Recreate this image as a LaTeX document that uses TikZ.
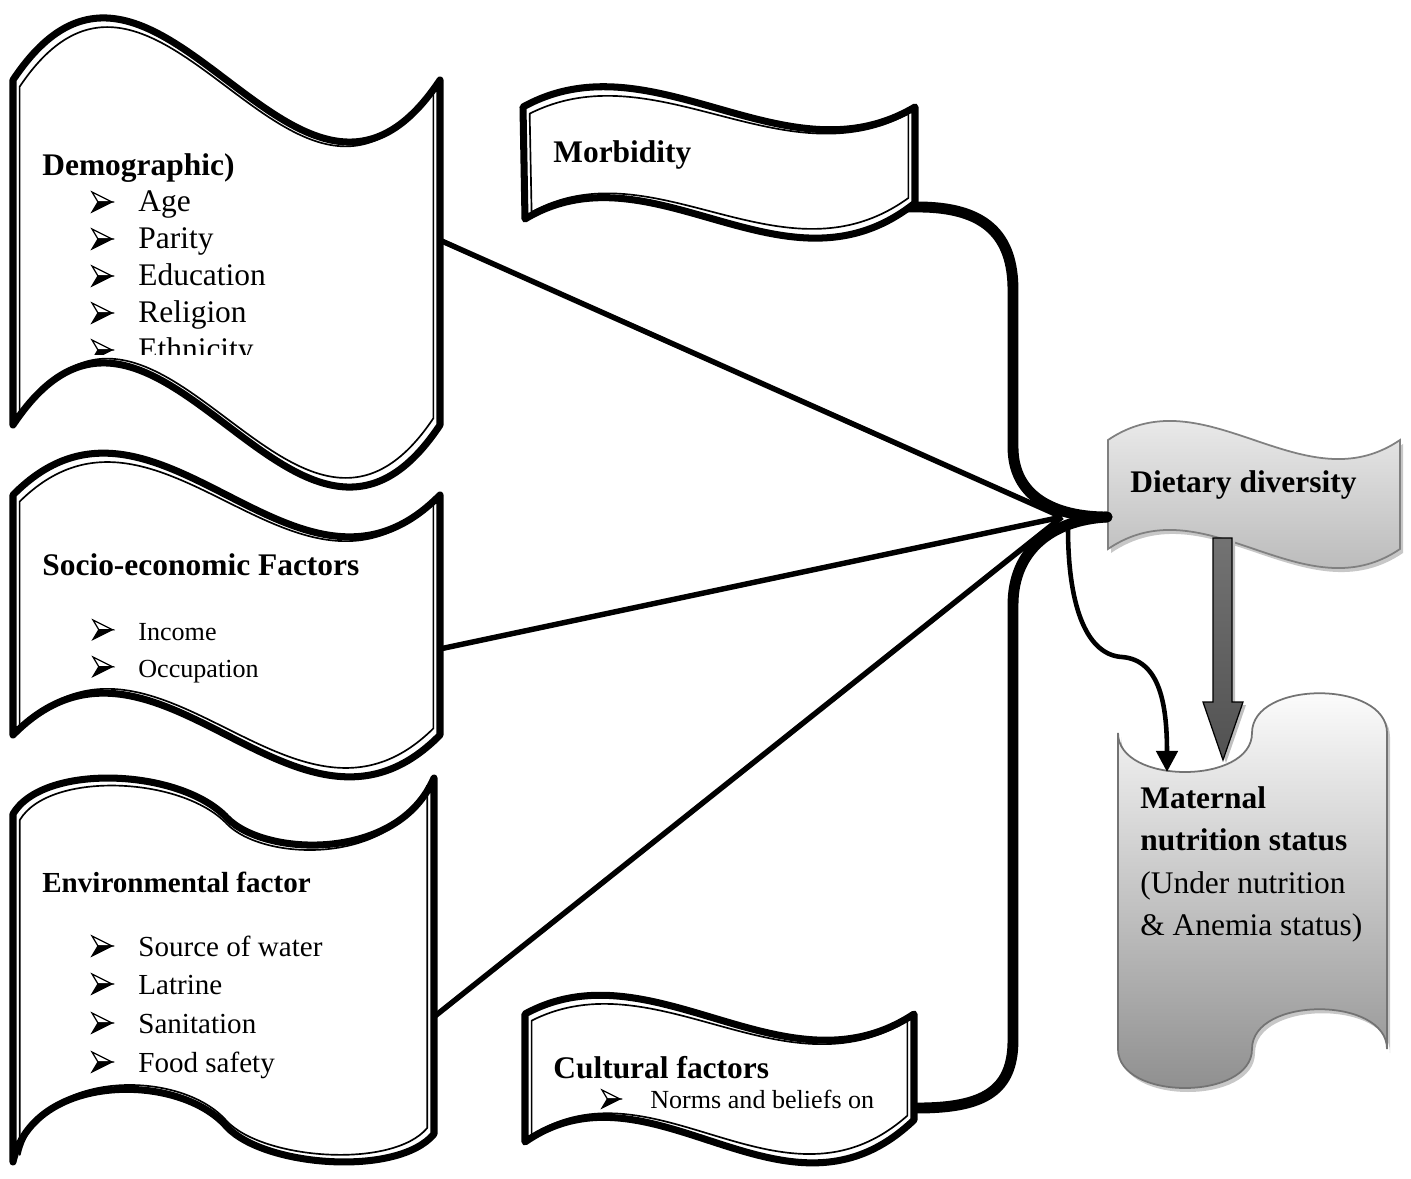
\documentclass[tikz,border=0pt]{standalone}
\usepackage{fontspec}
\setmainfont{Liberation Serif}
\usetikzlibrary{arrows.meta}

% #1,#2 centre, #3,#4 inner scale, #5 path
\newcommand\dblbanner[5]{%
  \filldraw[fill=white, line width=4pt, line join=round] #5;
  \begin{scope}[shift={(#1,#2)}, xscale=#3, yscale=#4, shift={(-#1,-#2)}]
    \draw[line width=0.95pt, line join=round] #5;
  \end{scope}}

\tikzset{
  ttl/.style={anchor=base west, inner sep=0pt, font=\fontsize{17.9pt}{20pt}\selectfont\bfseries},
  itL/.style={anchor=base west, inner sep=0pt, font=\fontsize{17.9pt}{20pt}\selectfont},
  itM/.style={anchor=base west, inner sep=0pt, font=\fontsize{16.55pt}{19pt}\selectfont},
  itS/.style={anchor=base west, inner sep=0pt, font=\fontsize{14.85pt}{17pt}\selectfont},
  ttlM/.style={anchor=base west, inner sep=0pt, font=\fontsize{16.55pt}{19pt}\selectfont\bfseries},
  conn/.style={line width=3.1pt},
  bracepart/.style={line width=6.2pt, line cap=round},
  bulpic/.pic={
    \filldraw[fill=white, line width=0.7pt, line join=miter] (0,0) -- (20,10) -- (6,10) -- cycle;
    \filldraw[line width=0.7pt, line join=miter] (6,10) -- (20,10) -- (0,20) -- cycle;
  }
}

\begin{document}
\begin{tikzpicture}[x=0.02cm, y=-0.02cm]
\useasboundingbox (0,0) rectangle (1411,1179);

% named connector end points
\coordinate (dem-e) at (435,238);
\coordinate (soc-e) at (435,650);
\coordinate (env-e) at (430,1020);
\coordinate (J) at (1062,517);
\coordinate (mor-e) at (905,207);
\coordinate (cul-e) at (905,1108);
\coordinate (tip) at (1107,517);
\coordinate (arr-s) at (1068,528);
\coordinate (mat-t) at (1167,772);

% straight connectors
\draw[conn] (dem-e) -- (J);
\draw[conn] (soc-e) -- (J);
\draw[conn] (env-e) -- (J);

% Dietary diversity banner
\fill[black!22] (1111,444) .. controls (1208,378) and (1306,510) .. (1403,444) -- (1403,553) .. controls (1306,619) and (1208,487) .. (1111,553) -- cycle;
\shade[top color=black!3, bottom color=black!32, draw=black!50, line width=1pt]
  (1108,440) .. controls (1205,374) and (1303,506) .. (1400,440) -- (1400,549) .. controls (1303,615) and (1205,483) .. (1108,549) -- cycle;
\node[ttl] (diet) at (1130,492) {Dietary diversity};

% Maternal nutrition status (punched tape)
\fill[black!22] (1121,737) .. controls (1121,789) and (1255,789) .. (1255,737) .. controls (1255,684) and (1390,684) .. (1390,737) -- (1390,1053) .. controls (1390,1000) and (1255,1000) .. (1255,1053) .. controls (1255,1105) and (1121,1105) .. (1121,1053) -- cycle;
\shade[top color=white, bottom color=black!45, draw=black!55, line width=1pt]
  (1118,733) .. controls (1118,785) and (1252,785) .. (1252,733) .. controls (1252,680) and (1387,680) .. (1387,733) -- (1387,1049) .. controls (1387,996) and (1252,996) .. (1252,1049) .. controls (1252,1101) and (1118,1101) .. (1118,1049) -- cycle;
\node[ttl] (mat1) at (1140,808) {Maternal};
\node[ttl] (mat2) at (1140,850) {nutrition status};
\node[itL] (mat3) at (1140,893) {(Under nutrition};
\node[itL] (mat4) at (1140,935) {\& Anemia status)};

% gray block arrow
\fill[black!25] (1216,541) -- (1235,541) -- (1235,705) -- (1246,705) -- (1226,763) -- (1206,705) -- (1216,705) -- cycle;
\shadedraw[top color=black!55, middle color=black!95, bottom color=black!68, draw=black, line width=0.7pt]
  (1213,538) -- (1232,538) -- (1232,702) -- (1243,702) -- (1223,760) -- (1203,702) -- (1213,702) -- cycle;

% thin arrow to maternal status
\draw[line width=2.6pt, -{Triangle[length=12pt, width=12pt]}]
  (arr-s) .. controls (1068,610) and (1088,655) .. (1122,657) .. controls (1160,660) and (1167,705) .. (mat-t);

% brace
\draw[bracepart] (mor-e) -- (918,207) .. controls (985,207) and (1013,235) .. (1013,290) -- (1013,447) .. controls (1013,497) and (1055,517) .. (tip);
\draw[bracepart] (tip) .. controls (1052,520) and (1013,550) .. (1013,605) -- (1013,1040) .. controls (1013,1090) and (985,1108) .. (918,1108) -- (cul-e);

% Demographic banner
\dblbanner{226.5}{252.5}{0.969}{0.961}{(13,80) .. controls (156,-135) and (297,295) .. (440,80) -- (440,425) .. controls (297,640) and (156,210) .. (13,425) -- cycle}
\node[ttl] (demT) at (42,176) {Demographic)};
\pic at (92,192) {bulpic}; \node[itL] (d1) at (138,212) {Age};
\pic at (92,229) {bulpic}; \node[itL] (d2) at (138,249) {Parity};
\pic at (92,266) {bulpic}; \node[itL] (d3) at (138,286) {Education};
\pic at (92,303) {bulpic}; \node[itL] (d4) at (138,323) {Religion};
\begin{scope}
  \clip (0,0) rectangle (440,355);
  \pic at (92,340) {bulpic}; \node[itL] (d5) at (138,360) {Ethnicity};
\end{scope}

% Socio-economic banner
\dblbanner{226.5}{615}{0.969}{0.945}{(13,495) .. controls (156,350) and (297,640) .. (440,495) -- (440,735) .. controls (297,880) and (156,590) .. (13,735) -- cycle}
\node[ttl] (socT) at (42,575) {Socio-economic Factors};
\pic[scale=0.97] at (93,620) {bulpic}; \node[itS] (s1) at (138,640) {Income};
\pic[scale=0.97] at (93,657) {bulpic}; \node[itS] (s2) at (138,677) {Occupation};

% Environmental banner
\dblbanner{223.5}{975}{0.968}{0.962}{(13,814) .. controls (43,763) and (180,768) .. (227,818) .. controls (265,857) and (398,862) .. (434,778) -- (434,1134) .. controls (398,1177) and (265,1167) .. (227,1127) .. controls (180,1072) and (33,1072) .. (13,1162) -- cycle}
\node[ttlM] (envT) at (42,892) {Environmental factor};
\pic at (92,936) {bulpic}; \node[itM] (e1) at (138,956) {Source of water};
\pic at (92,974) {bulpic}; \node[itM] (e2) at (138,994) {Latrine};
\pic at (92,1013) {bulpic}; \node[itM] (e3) at (138,1033) {Sanitation};
\pic at (92,1052) {bulpic}; \node[itM] (e4) at (138,1072) {Food safety};

% Morbidity banner
\dblbanner{719}{162}{0.966}{0.879}{(523,107) .. controls (653,35) and (785,184) .. (915,107) -- (915,203) .. controls (785,306) and (653,142) .. (525,219) -- cycle}
\node[ttl] (morT) at (553,163) {Morbidity};

% Cultural factors banner
\dblbanner{719.5}{1078}{0.966}{0.896}{(525,1014) .. controls (653,944) and (785,1099) .. (914,1014) -- (914,1120) .. controls (785,1243) and (653,1053) .. (525,1142) -- cycle}
\node[ttl] (culT) at (553,1078) {Cultural factors};
\pic[scale=0.9] at (602,1090) {bulpic}; \node[itS] (c1) at (650,1108) {Norms and beliefs on};

\end{tikzpicture}
\end{document}
